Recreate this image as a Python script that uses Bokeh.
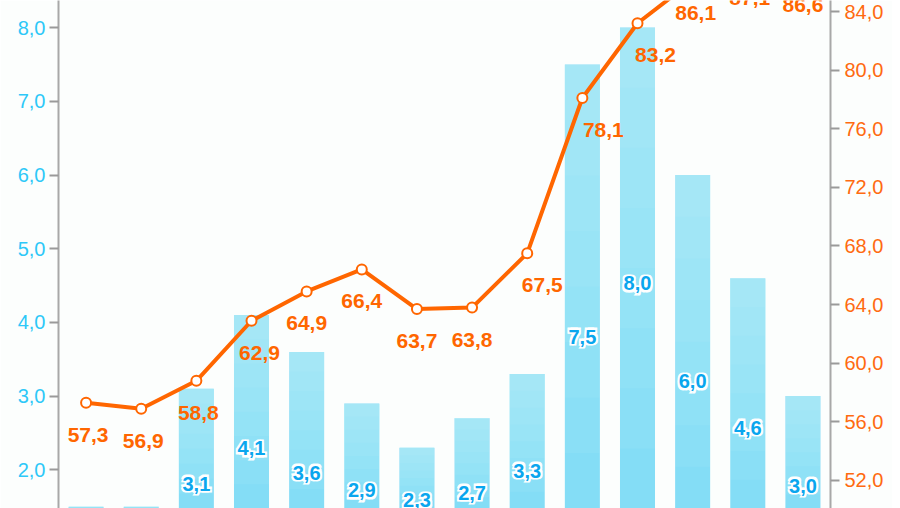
import numpy as np
from bokeh.plotting import figure
from bokeh.models import Range1d, LinearAxis, FixedTicker, CustomJSTickFormatter
from bokeh.core.properties import value
from bokeh.embed import file_html
from bokeh.resources import INLINE

# ---------------- data ----------------
categories = ["1", "2", "3", "4", "5", "6", "7", "8", "9", "10", "11", "12", "13", "14"]
bar_values = [1.5, 1.5, 3.1, 4.1, 3.6, 2.9, 2.3, 2.7, 3.3, 7.5, 8.0, 6.0, 4.6, 3.0]
line_values = [57.3, 56.9, 58.8, 62.9, 64.9, 66.4, 63.7, 63.8, 67.5, 78.1, 83.2, 86.1, 87.1, 86.6]
left_ticks = [2, 3, 4, 5, 6, 7, 8]
right_ticks = [52, 56, 60, 64, 68, 72, 76, 80, 84]

# ---------------- label nudges (style, pixels) ----------------
bar_label_dy = [-20, -20, -19, -18, -12, -20, -32, -25, -25, -4, -39, -15, -20, -21]
line_label_dx = [2, 2, 2, 8, 0, 0, 0, 0, 15, 21, 18, 3, 2, 0]

def fmt(v):
    return f"{v:.1f}".replace(".", ",")

x = list(range(len(categories)))
FONT = "Liberation Sans"
BG = "#fcfefd"
LEFT_MIN, LEFT_MAX = 1.475, 8.368
RIGHT_MIN, RIGHT_MAX = 50.089, 84.751

p = figure(width=892, height=508, output_backend="svg", toolbar_location=None,
           x_range=Range1d(-0.5, len(categories) - 0.5),
           y_range=Range1d(LEFT_MIN, LEFT_MAX),
           x_axis_location=None,
           min_border_left=58, min_border_right=62, min_border_top=0, min_border_bottom=0,
           background_fill_color=BG, border_fill_color=BG, outline_line_color=None)
p.grid.visible = False
p.extra_y_ranges = {"r": Range1d(RIGHT_MIN, RIGHT_MAX)}

formatter = CustomJSTickFormatter(code="return tick.toFixed(1).replace('.', ',');")

def style_axis(ax, color, standoff):
    ax.formatter = formatter
    ax.axis_line_color = "#a8a8a8"
    ax.axis_line_width = 2
    ax.major_tick_line_color = "#9a9a9a"
    ax.major_tick_line_width = 2
    ax.major_tick_out = 9
    ax.major_tick_in = 0
    ax.minor_tick_line_color = None
    ax.major_label_text_color = color
    ax.major_label_text_font = FONT
    ax.major_label_text_font_size = "20px"
    ax.major_label_standoff = standoff

yl = p.yaxis[0]
yl.ticker = FixedTicker(ticks=left_ticks)
style_axis(yl, "#2ec8f8", 4)

yr = LinearAxis(y_range_name="r", ticker=FixedTicker(ticks=right_ticks))
style_axis(yr, "#ff6a10", 5)
p.add_layout(yr, "right")

# bars with a light-top gradient made of stacked translucent overlays
bar_w = 0.635
p.vbar(x=x, top=bar_values, bottom=0, width=bar_w, fill_color="#7edbf6", line_color=None)
N = 8
for k in range(1, N + 1):
    bottoms = [v - (v - LEFT_MIN) * k / N for v in bar_values]
    p.vbar(x=x, top=bar_values, bottom=bottoms, width=bar_w,
           fill_color="#e8fbff", fill_alpha=0.065, line_color=None)

# line series on right axis
p.line(x, line_values, y_range_name="r", line_color="#ff6600", line_width=4)
p.scatter(x, line_values, y_range_name="r", size=10, fill_color="white",
          line_color="#ff6600", line_width=2)

p.text(x=x, y=line_values, text=[fmt(v) for v in line_values], y_range_name="r",
       x_offset=line_label_dx, y_offset=32,
       text_align="center", text_baseline="middle", text_color="#ff6600",
       text_font=value(FONT), text_font_style="bold", text_font_size="21px")

# bar value labels: white halo underneath, blue text on top
bar_label_y = [v / 2 for v in bar_values]
bar_label_text = [fmt(v) for v in bar_values]
for dx, dy in [(-1.5, -1.5), (1.5, -1.5), (-1.5, 1.5), (1.5, 1.5)]:
    p.text(x=x, y=bar_label_y, text=bar_label_text,
           x_offset=dx, y_offset=[d + dy for d in bar_label_dy],
           text_align="center", text_baseline="middle", text_color="white",
           text_outline_color="white",
           text_font=value(FONT), text_font_style="bold", text_font_size="20px")
p.text(x=x, y=bar_label_y, text=bar_label_text,
       y_offset=bar_label_dy,
       text_align="center", text_baseline="middle", text_color="#0aa6ee",
       text_font=value(FONT), text_font_style="bold", text_font_size="20px")

open("out.html", "w").write(file_html(p, INLINE))
